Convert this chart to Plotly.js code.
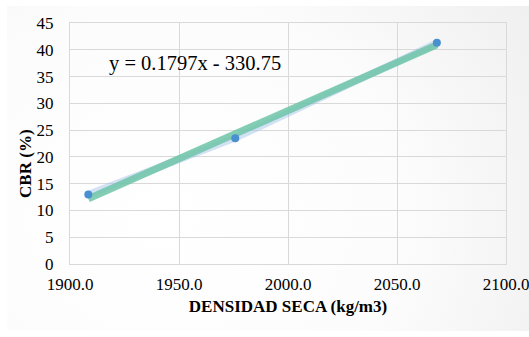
<!DOCTYPE html>
<html>
<head>
<meta charset="utf-8">
<script src="https://cdn.plot.ly/plotly-3.0.1.min.js"></script>
<style>
  html, body { margin: 0; padding: 0; background: #ffffff; }
  #wrap { position: relative; width: 529px; height: 337px; background: #ffffff; }
  #frame {
    position: absolute; left: 7px; top: 6px; right: 0; bottom: 6px;
    background: radial-gradient(ellipse 85% 120% at 30% 65%, #ffffff 0%, #fcfcfc 55%, #efefef 100%);
  }
  #chart { position: absolute; left: 0; top: 0; width: 529px; height: 337px; }
</style>
</head>
<body>
<div id="wrap">
  <div id="frame"></div>
  <div id="chart"></div>
</div>
<script>
// Dry density vs CBR test results
const densidadSeca = [1908.4, 1975.8, 2068.3];
const cbr = [13.0, 23.5, 41.3];

// Linear trendline coefficients (as printed on the chart)
const pendiente = 0.1797;
const intercepto = -330.75;
const ecuacion = 'y = 0.1797x - 330.75';

const xTicks = [1900, 1950, 2000, 2050, 2100];
const xTickLabels = ['1900.0', '1950.0', '2000.0', '2050.0', '2100.0'];
const yTicks = [0, 5, 10, 15, 20, 25, 30, 35, 40, 45];

const xMin = Math.min(...densidadSeca);
const xMax = Math.max(...densidadSeca);
const trendX = [xMin, xMax];
const trendY = trendX.map(x => pendiente * x + intercepto);

const serif = "Liberation Serif";

const data = [
  {
    x: densidadSeca, y: cbr, type: 'scatter', mode: 'lines',
    line: { color: 'rgba(160,190,235,0.45)', width: 7 },
    hoverinfo: 'skip', showlegend: false
  },
  {
    x: trendX, y: trendY, type: 'scatter', mode: 'lines',
    line: { color: 'rgba(110,196,168,0.85)', width: 7 },
    hoverinfo: 'skip', showlegend: false
  },
  {
    x: densidadSeca, y: cbr, type: 'scatter', mode: 'markers',
    marker: { color: '#4a8fcf', size: 8 },
    showlegend: false
  }
];

const gridColor = '#d9d9d9';

const layout = {
  width: 529, height: 337,
  margin: { l: 70, r: 23, t: 23, b: 73 },
  paper_bgcolor: 'rgba(0,0,0,0)',
  plot_bgcolor: 'rgba(0,0,0,0)',
  font: { family: serif, color: '#000000', size: 16 },
  xaxis: {
    range: [1900, 2100],
    tickmode: 'array', tickvals: xTicks, ticktext: xTickLabels,
    showgrid: true, gridcolor: gridColor, gridwidth: 1,
    zeroline: false, showline: true, linecolor: gridColor, mirror: true,
    ticks: 'outside', ticklen: 5, tickcolor: 'rgba(0,0,0,0)',
    ticklabeloverflow: 'allow',
    tickfont: { family: serif, size: 17, color: '#000000' },
    title: { text: '<b>DENSIDAD SECA (kg/m3)</b>', font: { family: serif, size: 17, color: '#000000' }, standoff: 6 }
  },
  yaxis: {
    range: [0, 45],
    tickmode: 'array', tickvals: yTicks,
    showgrid: true, gridcolor: gridColor, gridwidth: 1,
    zeroline: false, showline: true, linecolor: gridColor, mirror: true,
    ticks: 'outside', ticklen: 12, tickcolor: 'rgba(0,0,0,0)',
    tickfont: { family: serif, size: 17, color: '#000000' }
  },
  annotations: [
    {
      x: 1916.9, y: 37.4, xref: 'x', yref: 'y',
      xanchor: 'left', yanchor: 'middle',
      text: ecuacion, showarrow: false,
      font: { family: serif, size: 20.5, color: '#000000' }
    },
    {
      // vertical axis title
      x: -0.1016, y: 0.414, xref: 'paper', yref: 'paper',
      xanchor: 'center', yanchor: 'middle', textangle: -90,
      text: '<b>CBR (%)</b>', showarrow: false,
      font: { family: serif, size: 17, color: '#000000' }
    }
  ]
};

Plotly.newPlot('chart', data, layout, { displayModeBar: false, staticPlot: true });
</script>
</body>
</html>
